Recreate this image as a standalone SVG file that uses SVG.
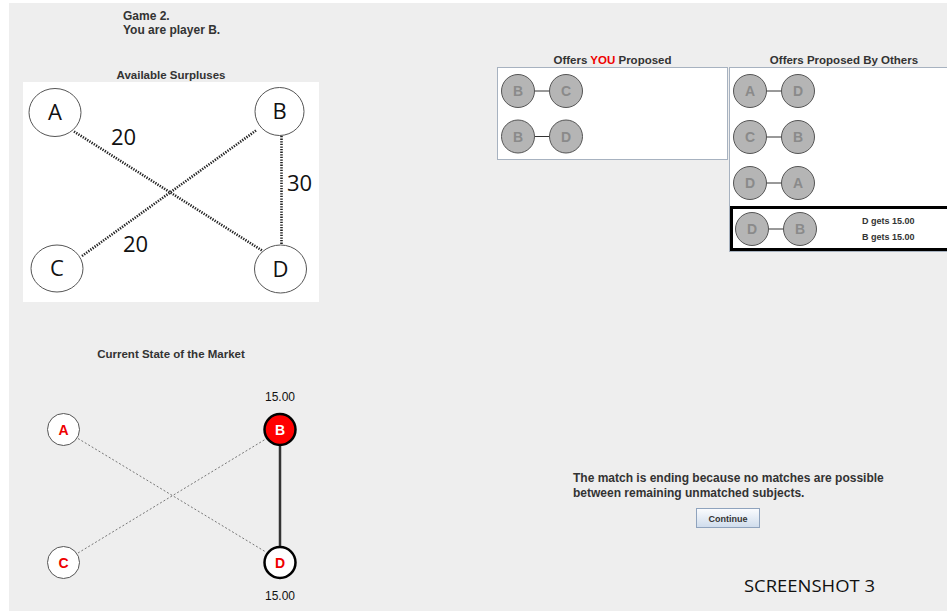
<svg xmlns="http://www.w3.org/2000/svg" width="947" height="611" viewBox="0 0 947 611">
<defs>
<style>
.t{font-family:"Liberation Sans",Arial,sans-serif;font-weight:bold;fill:#333;}
.big{font-family:"Open Sans","Liberation Sans",sans-serif;font-size:22px;fill:#111;}
.oc{fill:#b5b5b5;stroke:#555;stroke-width:1;}
.ol{font-family:"Liberation Sans",Arial,sans-serif;font-weight:bold;font-size:14px;fill:#8a8a8a;text-anchor:middle;}
.ln{stroke:#333;stroke-width:1;}
.dot{stroke:#222;stroke-width:2.6;stroke-dasharray:1.3 1.3;fill:none;}
.dash{stroke:#777;stroke-width:1;stroke-dasharray:2 2;fill:none;}
.ml{font-family:"Liberation Sans",Arial,sans-serif;font-weight:bold;font-size:14px;fill:#e00;text-anchor:middle;}
.num{font-family:"Liberation Sans",Arial,sans-serif;font-size:12px;fill:#111;text-anchor:middle;}
</style>
<linearGradient id="btn" x1="0" y1="0" x2="0" y2="1">
<stop offset="0" stop-color="#fbfcfe"/>
<stop offset="1" stop-color="#cfdcec"/>
</linearGradient>
</defs>
<rect x="0" y="0" width="947" height="611" fill="#ffffff"/>
<rect x="9" y="3" width="938" height="608" fill="#eeeeee"/>

<text class="t" x="123" y="20" font-size="12">Game 2.</text>
<text class="t" x="123" y="34" font-size="12">You are player B.</text>

<text class="t" x="171" y="79" font-size="11.5" text-anchor="middle">Available Surpluses</text>
<rect x="23" y="82" width="296" height="220" fill="#ffffff"/>

<g id="surplus-edges">
<line class="dot" x1="74" y1="131.5" x2="262" y2="250.5"/>
<line class="dot" x1="82" y1="256" x2="256" y2="130.5"/>
<line class="dot" x1="281.5" y1="136" x2="281.5" y2="245"/>
<text class="big" x="111" y="145">20</text>
<text class="big" x="287" y="191">30</text>
<text class="big" x="123" y="252">20</text>
</g>
<g id="sA"><ellipse cx="55" cy="112.5" rx="26" ry="24" fill="#fff" stroke="#555" stroke-width="1"/><text class="big" x="55" y="120" text-anchor="middle">A</text></g>
<g id="sB"><ellipse cx="279.5" cy="111.5" rx="24.5" ry="24" fill="#fff" stroke="#555" stroke-width="1"/><text class="big" x="279.5" y="119" text-anchor="middle">B</text></g>
<g id="sC"><ellipse cx="57" cy="268.5" rx="26" ry="23.5" fill="#fff" stroke="#555" stroke-width="1"/><text class="big" x="57" y="276" text-anchor="middle">C</text></g>
<g id="sD"><ellipse cx="280.5" cy="269" rx="26" ry="24" fill="#fff" stroke="#555" stroke-width="1"/><text class="big" x="280.5" y="277" text-anchor="middle">D</text></g>

<text class="t" x="612.5" y="63.5" font-size="11.5" text-anchor="middle">Offers <tspan fill="#e00">YOU</tspan> Proposed</text>
<text class="t" x="844" y="63.5" font-size="11.5" text-anchor="middle">Offers Proposed By Others</text>

<rect x="497.5" y="67.5" width="230" height="92" fill="#ffffff" stroke="#a7b2c0" stroke-width="1"/>
<rect x="729.5" y="67.5" width="220" height="184" fill="#ffffff" stroke="#a7b2c0" stroke-width="1"/>

<g id="offer-BC">
<line class="ln" x1="534" y1="91" x2="550" y2="91"/>
<circle class="oc" cx="518" cy="91" r="16.5"/><text class="ol" x="518" y="96">B</text>
<circle class="oc" cx="566" cy="91" r="16.5"/><text class="ol" x="566" y="96">C</text>
</g>
<g id="offer-BD">
<line class="ln" x1="534" y1="136.5" x2="550" y2="136.5"/>
<circle class="oc" cx="518" cy="136.5" r="16.5"/><text class="ol" x="518" y="141.5">B</text>
<circle class="oc" cx="566" cy="136.5" r="16.5"/><text class="ol" x="566" y="141.5">D</text>
</g>
<g id="offer-AD">
<line class="ln" x1="766" y1="91" x2="782" y2="91"/>
<circle class="oc" cx="750" cy="91" r="16.5"/><text class="ol" x="750" y="96">A</text>
<circle class="oc" cx="798" cy="91" r="16.5"/><text class="ol" x="798" y="96">D</text>
</g>
<g id="offer-CB">
<line class="ln" x1="766" y1="137" x2="782" y2="137"/>
<circle class="oc" cx="750" cy="137" r="16.5"/><text class="ol" x="750" y="142">C</text>
<circle class="oc" cx="798" cy="137" r="16.5"/><text class="ol" x="798" y="142">B</text>
</g>
<g id="offer-DA">
<line class="ln" x1="766" y1="183" x2="782" y2="183"/>
<circle class="oc" cx="750" cy="183" r="16.5"/><text class="ol" x="750" y="188">D</text>
<circle class="oc" cx="798" cy="183" r="16.5"/><text class="ol" x="798" y="188">A</text>
</g>
<g id="offer-DB">
<rect x="731.5" y="207.5" width="220" height="42" fill="#ffffff" stroke="#000" stroke-width="3"/>
<line class="ln" x1="768" y1="229" x2="784" y2="229"/>
<circle class="oc" cx="752" cy="229" r="16.5"/><text class="ol" x="752" y="234">D</text>
<circle class="oc" cx="800" cy="229" r="16.5"/><text class="ol" x="800" y="234">B</text>
<text class="t" x="862" y="223.5" font-size="9">D gets 15.00</text>
<text class="t" x="862" y="239.5" font-size="9">B gets 15.00</text>
</g>

<text class="t" x="171" y="358" font-size="11.5" text-anchor="middle">Current State of the Market</text>

<g id="market-edges">
<line class="dash" x1="78" y1="438.5" x2="265" y2="551.5"/>
<line class="dash" x1="78" y1="553" x2="265" y2="439.5"/>
<line x1="280" y1="446" x2="280" y2="546" stroke="#333" stroke-width="2.5"/>
</g>
<g id="mA"><circle cx="63.5" cy="429.5" r="16" fill="#fff" stroke="#555" stroke-width="1"/><text class="ml" x="63.5" y="434.5">A</text></g>
<g id="mB"><text class="num" x="280" y="401">15.00</text><circle cx="280" cy="429.5" r="15.5" fill="#ff0000" stroke="#000" stroke-width="2.5"/><text class="ml" x="280" y="434.5" style="fill:#fff">B</text></g>
<g id="mC"><circle cx="63.5" cy="562.5" r="16" fill="#fff" stroke="#555" stroke-width="1"/><text class="ml" x="63.5" y="567.5">C</text></g>
<g id="mD"><circle cx="280" cy="562.5" r="15.5" fill="#fff" stroke="#000" stroke-width="2.5"/><text class="ml" x="280" y="567.5">D</text><text class="num" x="280" y="600">15.00</text></g>

<text class="t" x="573" y="482" font-size="12">The match is ending because no matches are possible</text>
<text class="t" x="573" y="496.5" font-size="12">between remaining unmatched subjects.</text>

<g id="continue">
<rect x="696.5" y="508.5" width="63" height="19" fill="url(#btn)" stroke="#8fa3bd" stroke-width="1"/>
<text class="t" x="728" y="521.5" font-size="9" text-anchor="middle">Continue</text>
</g>

<text x="744" y="592" font-family="'Open Sans','Liberation Sans',sans-serif" font-size="17" fill="#111" textLength="131" lengthAdjust="spacingAndGlyphs">SCREENSHOT 3</text>
</svg>
